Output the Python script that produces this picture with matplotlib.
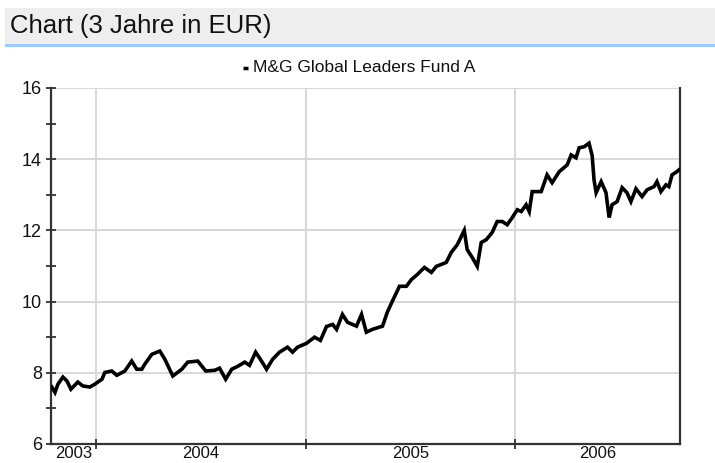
import matplotlib
matplotlib.use("Agg")
import matplotlib.pyplot as plt
from matplotlib.patches import Rectangle
from matplotlib.lines import Line2D

# ---------------- data ----------------
title_text = "Chart (3 Jahre in EUR)"
series_name = "M&G Global Leaders Fund A"
year_labels = ["2003", "2004", "2005", "2006"]
year_bounds = [2004, 2005, 2006]
y_major = [6, 8, 10, 12, 14, 16]
y_minor = [7, 9, 11, 13, 15]
x_range = [2003.786, 2006.786]

dates = [
    2003.790, 2003.805, 2003.819, 2003.843, 2003.862, 2003.881, 2003.914, 2003.938,
    2003.971, 2003.995, 2004.029, 2004.043, 2004.076, 2004.100, 2004.138, 2004.171,
    2004.195, 2004.219, 2004.233, 2004.267, 2004.305, 2004.329, 2004.367, 2004.410,
    2004.438, 2004.486, 2004.524, 2004.567, 2004.590, 2004.619, 2004.648, 2004.676,
    2004.710, 2004.733, 2004.762, 2004.790, 2004.814, 2004.843, 2004.876, 2004.914,
    2004.938, 2004.962, 2005.005, 2005.043, 2005.071, 2005.100, 2005.129, 2005.148,
    2005.176, 2005.200, 2005.243, 2005.267, 2005.290, 2005.319, 2005.367, 2005.390,
    2005.414, 2005.448, 2005.481, 2005.505, 2005.533, 2005.567, 2005.600, 2005.624,
    2005.671, 2005.695, 2005.724, 2005.757, 2005.771, 2005.795, 2005.819, 2005.838,
    2005.862, 2005.890, 2005.914, 2005.938, 2005.962, 2005.986, 2006.010, 2006.029,
    2006.052, 2006.067, 2006.081, 2006.124, 2006.152, 2006.176, 2006.210, 2006.248,
    2006.267, 2006.290, 2006.305, 2006.329, 2006.352, 2006.367, 2006.376, 2006.386,
    2006.410, 2006.433, 2006.448, 2006.462, 2006.486, 2006.510, 2006.533, 2006.552,
    2006.576, 2006.605, 2006.629, 2006.662, 2006.676, 2006.695, 2006.719, 2006.733,
    2006.748, 2006.771, 2006.781,
]
prices = [
    7.60, 7.45, 7.68, 7.88, 7.77, 7.54, 7.74, 7.63,
    7.60, 7.68, 7.82, 8.01, 8.05, 7.93, 8.05, 8.33,
    8.10, 8.10, 8.24, 8.52, 8.61, 8.38, 7.91, 8.10,
    8.30, 8.33, 8.05, 8.07, 8.13, 7.82, 8.10, 8.18,
    8.30, 8.21, 8.58, 8.33, 8.10, 8.38, 8.58, 8.72,
    8.58, 8.72, 8.83, 9.00, 8.91, 9.30, 9.36, 9.22,
    9.64, 9.42, 9.31, 9.64, 9.14, 9.22, 9.31, 9.70,
    10.01, 10.43, 10.43, 10.62, 10.76, 10.96, 10.82, 10.99,
    11.10, 11.38, 11.60, 12.00, 11.46, 11.24, 10.99, 11.66,
    11.74, 11.94, 12.25, 12.25, 12.16, 12.36, 12.58, 12.53,
    12.72, 12.53, 13.09, 13.09, 13.56, 13.34, 13.65, 13.84,
    14.12, 14.04, 14.32, 14.35, 14.45, 14.10, 13.42, 13.06,
    13.37, 13.06, 12.36, 12.72, 12.81, 13.20, 13.06, 12.81,
    13.17, 12.95, 13.14, 13.23, 13.37, 13.09, 13.28, 13.23,
    13.56, 13.65, 13.70,
]

# ---------------- figure ----------------
plt.rcParams["font.family"] = ["Liberation Sans", "DejaVu Sans"]
W, H = 715, 463
fig = plt.figure(figsize=(W / 100, H / 100), dpi=100)


def fx(px):
    return px / W


def fy(py):
    return 1 - py / H


# header band
fig.patches.append(Rectangle((fx(5), fy(44)), fx(710), 36 / H,
                             transform=fig.transFigure, facecolor="#eeeeee",
                             edgecolor="none", zorder=0))
fig.patches.append(Rectangle((fx(5), fy(47)), fx(710), 3 / H,
                             transform=fig.transFigure, facecolor="#99ccff",
                             edgecolor="none", zorder=0))
fig.text(fx(10), fy(26), title_text, fontsize=18.5, ha="left", va="center",
         color="#111111")

# legend
fig.add_artist(Line2D([fx(243), fx(248)], [fy(68), fy(68)], color="black",
                      lw=2.5, solid_capstyle="butt", transform=fig.transFigure))
fig.text(fx(253), fy(68), series_name, fontsize=12.5, ha="left", va="center",
         color="#111111")

# axes
ax = fig.add_axes([fx(51), fy(444), fx(680 - 51), (444 - 88) / H])
ax.plot(dates, prices, color="black", lw=2.6, solid_joinstyle="miter", zorder=3)

ax.set_xlim(*x_range)
ax.set_ylim(y_major[0], y_major[-1])

ax.set_yticks(y_major)
ax.set_yticks(y_minor, minor=True)
ax.set_yticklabels([str(v) for v in y_major])

ax.set_xticks(year_bounds)
ax.set_xticklabels([""] * len(year_bounds))
edges = [x_range[0]] + year_bounds + [x_range[1]]
mids = [(edges[i] + edges[i + 1]) / 2 for i in range(len(year_labels))]
ax.set_xticks(mids, minor=True)
ax.set_xticklabels(year_labels, minor=True)

ax.grid(True, which="major", color="#d6d6d6", lw=1.3, zorder=0)
ax.set_axisbelow(True)

for s in ["left", "bottom", "right"]:
    ax.spines[s].set_color("#333333")
    ax.spines[s].set_linewidth(1.6)
ax.spines["top"].set_visible(False)

ax.tick_params(axis="y", which="both", direction="inout", length=7, width=1.3,
               color="#333333", labelsize=13, pad=3, labelcolor="#111111")
ax.tick_params(axis="x", which="major", direction="inout", length=7, width=1.3,
               color="#333333")
ax.tick_params(axis="x", which="minor", length=0, labelsize=12, pad=1.5,
               labelcolor="#111111")

fig.savefig("out.png", dpi=100)
